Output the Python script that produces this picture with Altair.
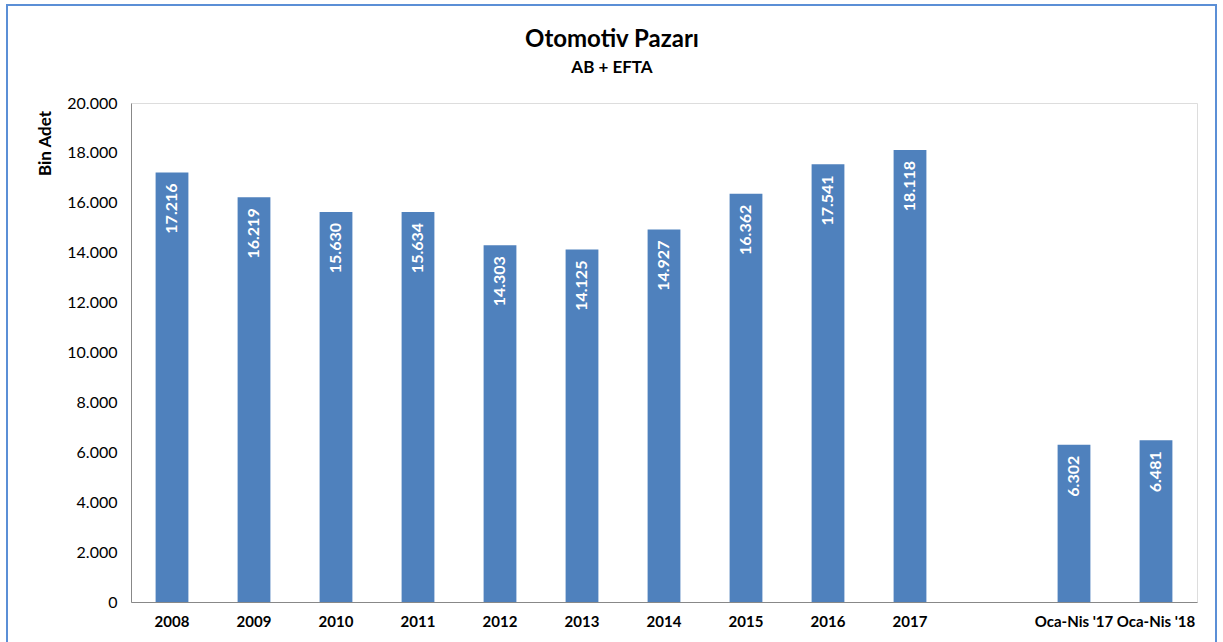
import altair as alt
import pandas as pd

categories = ["2008", "2009", "2010", "2011", "2012", "2013", "2014", "2015",
              "2016", "2017", " ", "Oca-Nis '17", "Oca-Nis '18"]
values = [17216, 16219, 15630, 15634, 14303, 14125, 14927, 16362,
          17541, 18118, None, 6302, 6481]
title_text = "Otomotiv Pazarı"
subtitle_text = "AB + EFTA"

df = pd.DataFrame({"cat": categories, "val": values})
df = df.dropna()
df["label"] = df["val"].apply(lambda v: f"{int(v):,}".replace(",", "."))

FONT = "Lato"
BLUE = "#4F81BD"

x = alt.X("cat:N", sort=categories,
          scale=alt.Scale(domain=categories, paddingInner=0.6, paddingOuter=0.3),
          axis=alt.Axis(title=None, labelAngle=0, labelFont=FONT, labelFontSize=15,
                        labelFontWeight="bold", labelColor="#000000", ticks=False,
                        domainColor="#888888", labelPadding=12))
y = alt.Y("val:Q", scale=alt.Scale(domain=[0, 20000]),
          axis=alt.Axis(title="Bin Adet", values=list(range(0, 20001, 2000)),
                        labelExpr="replace(format(datum.value, ','), ',', '.')",
                        labelFont=FONT, labelFontSize=16, labelColor="#000000",
                        ticks=False, grid=False, domainColor="#888888", labelPadding=14,
                        titleFont=FONT, titleFontSize=17, titleFontWeight="bold",
                        titleColor="#000000",
                        titleX=-86, titleY=40, titleAngle=270, titleAlign="center",
                        titleBaseline="middle"))

bars = alt.Chart(df).mark_bar(color=BLUE).encode(x=x, y=y)

labels = alt.Chart(df).mark_text(angle=270, align="right", baseline="middle",
                                 color="white", font=FONT, fontSize=16,
                                 fontWeight="bold", dx=-11).encode(
    x=alt.X("cat:N", sort=categories), y="val:Q", text="label:N")

one = pd.DataFrame({"k": [0]})
frame = alt.Chart(one).mark_rect(
    fill=None, stroke="#5B8FD6", strokeWidth=2, clip=False).encode(
    x=alt.value(-124), x2=alt.value(1085), y=alt.value(-98), y2=alt.value(560))

title = alt.Chart(one).mark_text(text=title_text, font=FONT, fontSize=24,
                                 fontWeight="bold", color="#000000",
                                 align="center", baseline="middle").encode(
    x=alt.value(481), y=alt.value(-63))
subtitle = alt.Chart(one).mark_text(text=subtitle_text, font=FONT, fontSize=17,
                                    fontWeight="bold", color="#000000",
                                    align="center", baseline="middle").encode(
    x=alt.value(481), y=alt.value(-35))

chart = alt.layer(frame, title, subtitle, bars, labels).properties(
    width=1066, height=499,
    autosize=alt.AutoSizeParams(type="none"),
    padding={"left": 131, "top": 103, "right": 20, "bottom": 40},
).configure_view(stroke=None).configure(background="white")

chart.save("out.html", embed_options={"renderer": "svg", "actions": False})
